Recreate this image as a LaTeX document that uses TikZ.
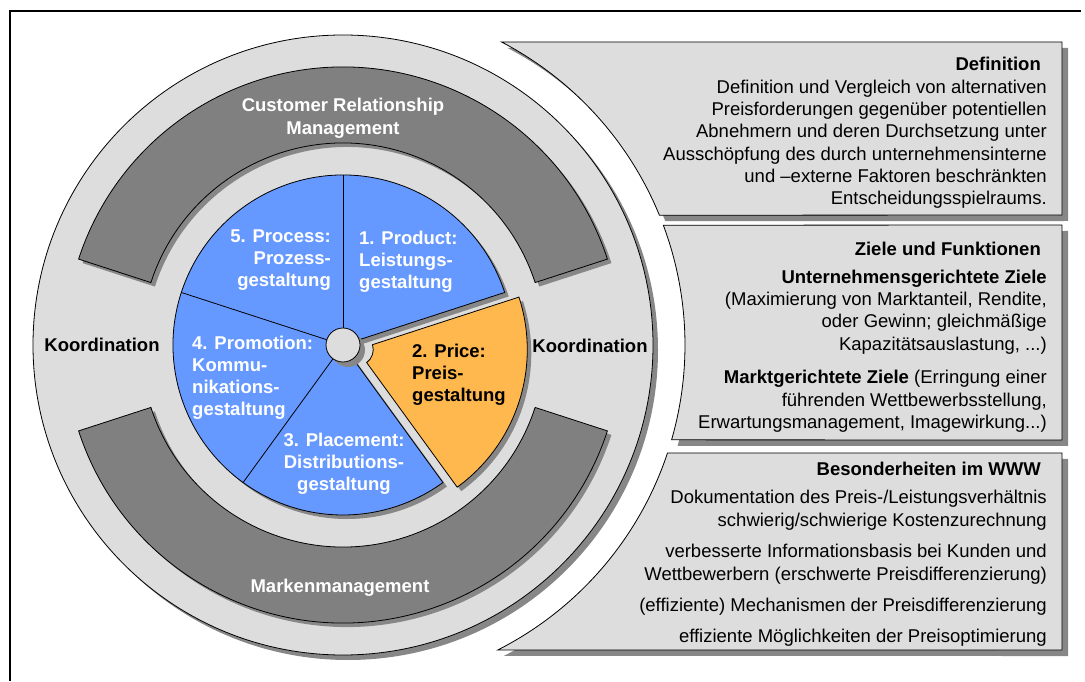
\documentclass[tikz,border=0pt]{standalone}
\usepackage{fontspec}
\setmainfont{Liberation Sans}
\usetikzlibrary{shadows}

\definecolor{ringgray}{RGB}{221,221,221}
\definecolor{seggray}{RGB}{128,128,128}
\definecolor{shadowgray}{RGB}{135,135,135}
\definecolor{sliceblue}{RGB}{102,153,255}
\definecolor{priceorange}{RGB}{255,184,77}

% annular sector: centre, inner r, outer r, from, to
\newcommand{\ringseg}[5]{([shift={(#1)}]#4:#2) -- ([shift={(#1)}]#4:#3)
  arc[start angle=#4,end angle=#5,radius=#3] -- ([shift={(#1)}]#5:#2)
  arc[start angle=#5,end angle=#4,radius=#2] -- cycle}

\tikzset{
  dropgray/.style={drop shadow={shadow xshift=#1,shadow yshift=-#1,fill=shadowgray,opacity=1}},
  ring/.style={fill=ringgray,draw=black,line width=0.8pt,dropgray=5pt},
  darkseg/.style={fill=seggray,draw=black,line width=0.8pt,dropgray=4pt},
  slice/.style={fill=sliceblue,draw=black,line width=0.8pt},
  pricepiece/.style={fill=priceorange,draw=black,line width=0.8pt,dropgray=4pt},
  infobox/.style={fill=ringgray,draw=black,line width=0.8pt,dropgray=6pt},
  ringlabel/.style={text=white,font=\bfseries\fontsize{18.5}{23}\selectfont,inner sep=0pt},
  coordlabel/.style={text=black,font=\bfseries\fontsize{18.5}{23}\selectfont,inner sep=0pt},
  slicelabel/.style={text=white,font=\bfseries\fontsize{18.5}{22}\selectfont,inner sep=0pt},
  boxtxt/.style={anchor=base east,inner sep=0pt,font=\fontsize{18.5}{22}\selectfont}
}

\begin{document}
\begin{tikzpicture}[x=1pt,y=1pt]
  \useasboundingbox (0,0) rectangle (1085,681);
  \draw[line width=2.2pt] (10,0) -- (10,670) -- (1081,670);

  \coordinate (C) at (343,336);
  \coordinate (Cp) at ([shift={(C)}]-18:15);

  % wheel
  \path[ring] (C) circle[radius=310];
  \path[darkseg] \ringseg{C}{202}{278}{18}{162};
  \path[darkseg] \ringseg{C}{202}{278}{198}{342};

  \path[slice,dropgray=4pt] (C) -- ([shift={(C)}]18:170)
    arc[start angle=18,end angle=306,radius=170] -- cycle;
  \foreach \a in {90,162,234}
    \draw[line width=0.8pt] (C) -- ([shift={(C)}]\a:170);
  \path[pricepiece] \ringseg{Cp}{16}{170}{-54}{18};
  \path[ring,dropgray=3pt] (C) circle[radius=17];

  % info boxes
  \path[infobox] (1062,639) -- ([shift={(C)}]62.4:342)
    arc[start angle=62.4,end angle=22.3,radius=342] -- (1062,466) -- cycle;
  \path[infobox] (1062,456) -- ([shift={(C)}]20.5:342)
    arc[start angle=20.5,end angle=-16.1,radius=342] -- (1062,241) -- cycle;
  \path[infobox] (1062,228) -- ([shift={(C)}]-18.4:342)
    arc[start angle=-18.4,end angle=-63.1,radius=342] -- (1062,31) -- cycle;

  % wheel labels
  \node[ringlabel,align=center] (crm) at (343,563) {Customer Relationship\\Management};
  \node[ringlabel] (marken) at (340,93) {Markenmanagement};
  \node[coordlabel] (koordl) at (102,336) {Koordination};
  \node[coordlabel] (koordr) at (590,335) {Koordination};
  \node[slicelabel,anchor=east,align=right] (process) at (331,421) {5. Process:\\Prozess-\\gestaltung};
  \node[slicelabel,anchor=west,align=left] (product) at (359,419) {1. Product:\\Leistungs-\\gestaltung};
  \node[slicelabel,anchor=west,align=left] (promotion) at (192,303) {4. Promotion:\\Kommu-\\nikations-\\gestaltung};
  \node[slicelabel,align=center] (placement) at (344,217) {3. Placement:\\Distributions-\\gestaltung};
  \node[slicelabel,text=black,anchor=west,align=left] (price) at (412,306) {2. Price:\\Preis-\\gestaltung};

  % box texts
  \foreach \y/\t [count=\i] in {
      71/{\bfseries Definition\hspace*{6pt}},
      94/{Definition und Vergleich von alternativen},
      116/{Preisforderungen gegenüber potentiellen},
      138/{Abnehmern und deren Durchsetzung unter},
      161/{Ausschöpfung des durch unternehmensinterne},
      183/{und –externe Faktoren beschränkten},
      205/{Entscheidungsspielraums.}}
    \node[boxtxt] (def\i) at (1047,{681-\y}) {\t};
  \foreach \y/\t [count=\i] in {
      256/{\bfseries Ziele und Funktionen\hspace*{6pt}},
      284/{\bfseries Unternehmensgerichtete Ziele},
      306/{(Maximierung von Marktanteil, Rendite,},
      328/{oder Gewinn; gleichmäßige},
      351/{Kapazitätsauslastung, ...)},
      384/{\textbf{Marktgerichtete Ziele} (Erringung einer},
      407/{führenden Wettbewerbsstellung,},
      429/{Erwartungsmanagement, Imagewirkung...)}}
    \node[boxtxt] (ziel\i) at (1047,{681-\y}) {\t};
  \foreach \y/\t [count=\i] in {
      476/{\bfseries Besonderheiten im WWW\hspace*{6pt}},
      503/{Dokumentation des Preis-/Leistungsverhältnis},
      526/{schwierig/schwierige Kostenzurechnung},
      557/{verbesserte Informationsbasis bei Kunden und},
      580/{Wettbewerbern (erschwerte Preisdifferenzierung)},
      611/{(effiziente) Mechanismen der Preisdifferenzierung},
      642/{effiziente Möglichkeiten der Preisoptimierung}}
    \node[boxtxt] (www\i) at (1047,{681-\y}) {\t};
\end{tikzpicture}
\end{document}
